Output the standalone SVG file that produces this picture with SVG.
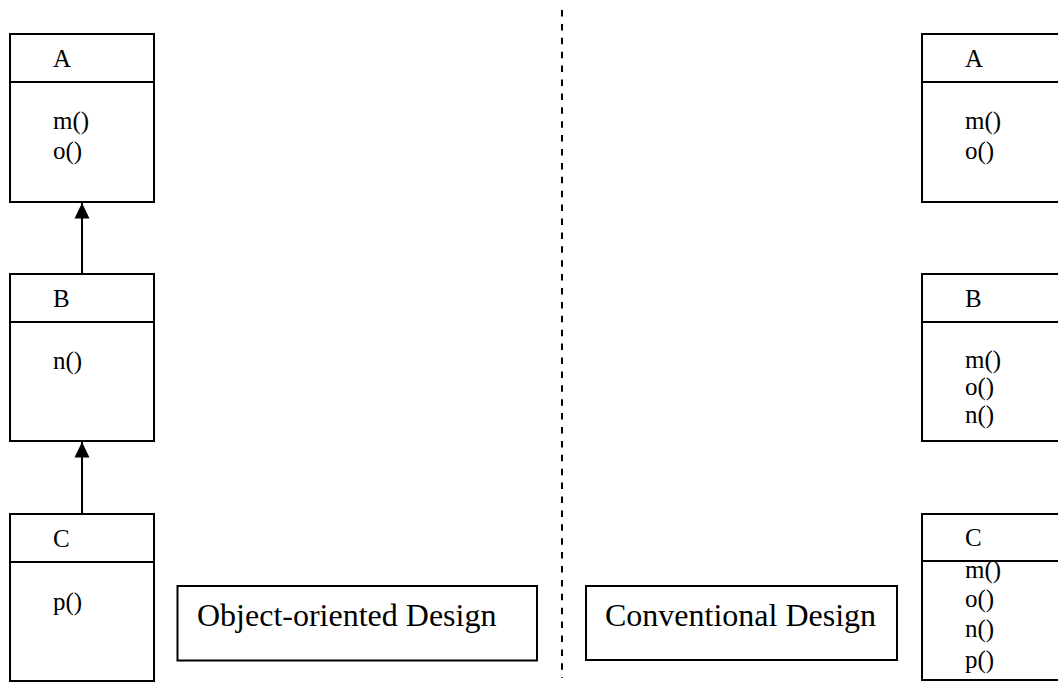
<svg xmlns="http://www.w3.org/2000/svg" width="1058" height="682" viewBox="0 0 1058 682">
<style>
.box{fill:#fff;stroke:#000;stroke-width:2}
.div{stroke:#000;stroke-width:2}
.t{font-family:"Liberation Serif","Times New Roman",serif;font-size:25px;fill:#000}
.big{font-family:"Liberation Serif","Times New Roman",serif;font-size:32px;fill:#000}
.conn{stroke:#000;stroke-width:2;fill:none}
</style>
<defs>
<marker id="arr" markerUnits="userSpaceOnUse" markerWidth="16" markerHeight="17" viewBox="0 0 16 17" refX="15.5" refY="8" orient="auto">
<path d="M0,0.5 L15.5,8 L0,15.5 Z" fill="#000"/>
</marker>
<clipPath id="clipRC"><rect x="923" y="562" width="140" height="114"/></clipPath>
</defs>
<rect width="1058" height="682" fill="#fff"/>

<g id="divider">
<line x1="562" y1="10" x2="562" y2="678" stroke="#000" stroke-width="2" stroke-dasharray="6.5,7.4"/>
</g>

<g id="left-A">
<rect class="box" x="10" y="34" width="144" height="168"/>
<line class="div" x1="10" y1="82" x2="154" y2="82"/>
<text class="t" x="53" y="67">A</text>
<text class="t" x="53" y="129">m()</text>
<text class="t" x="53" y="159">o()</text>
</g>
<g id="left-B">
<rect class="box" x="10" y="274" width="144" height="167"/>
<line class="div" x1="10" y1="322" x2="154" y2="322"/>
<text class="t" x="53" y="307">B</text>
<text class="t" x="53" y="369">n()</text>
</g>
<g id="left-C">
<rect class="box" x="10" y="514" width="144" height="167"/>
<line class="div" x1="10" y1="562" x2="154" y2="562"/>
<text class="t" x="53" y="547">C</text>
<text class="t" x="53" y="610">p()</text>
</g>

<g id="connectors">
<line class="conn" x1="82" y1="274" x2="82" y2="203" marker-end="url(#arr)"/>
<line class="conn" x1="82" y1="514" x2="82" y2="442" marker-end="url(#arr)"/>
</g>

<g id="label-oo">
<rect class="box" x="177.5" y="586" width="359.5" height="74.5"/>
<text class="big" x="197" y="626">Object-oriented Design</text>
</g>
<g id="label-conv">
<rect class="box" x="586" y="586" width="311" height="74"/>
<text class="big" x="605" y="626">Conventional Design</text>
</g>

<g id="right-A">
<rect class="box" x="922" y="34" width="150" height="168"/>
<line class="div" x1="922" y1="82" x2="1072" y2="82"/>
<text class="t" x="965" y="67">A</text>
<text class="t" x="965" y="129">m()</text>
<text class="t" x="965" y="159">o()</text>
</g>
<g id="right-B">
<rect class="box" x="922" y="274" width="150" height="167"/>
<line class="div" x1="922" y1="322" x2="1072" y2="322"/>
<text class="t" x="965" y="307">B</text>
<text class="t" x="965" y="368">m()</text>
<text class="t" x="965" y="395">o()</text>
<text class="t" x="965" y="423">n()</text>
</g>
<g id="right-C">
<rect class="box" x="922" y="514" width="150" height="166"/>
<text class="t" x="965" y="546">C</text>
<g clip-path="url(#clipRC)">
<text class="t" x="965" y="578">m()</text>
<text class="t" x="965" y="607">o()</text>
<text class="t" x="965" y="637">n()</text>
<text class="t" x="965" y="668">p()</text>
</g>
<line class="div" x1="922" y1="561" x2="1072" y2="561"/>
</g>
</svg>
